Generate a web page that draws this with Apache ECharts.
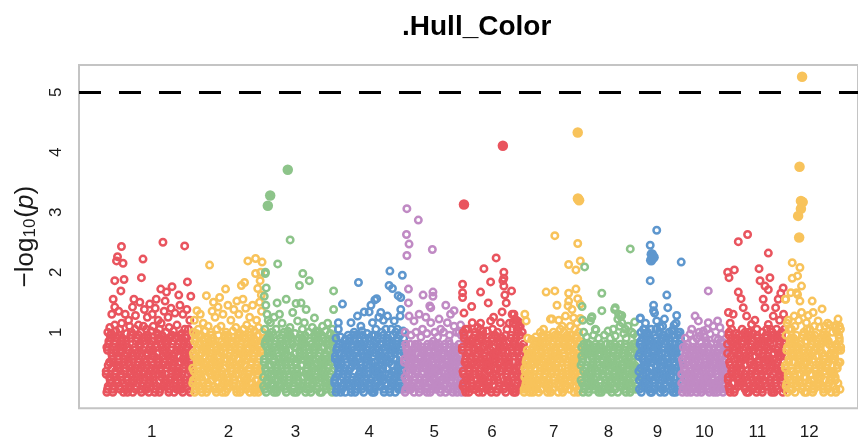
<!DOCTYPE html>
<html><head><meta charset="utf-8">
<script src="https://cdn.jsdelivr.net/npm/echarts@6/dist/echarts.min.js"></script>
<style>html,body{margin:0;padding:0;background:#fff}#c{width:858px;height:443px}</style>
</head><body><div id="c"></div>
<script>
const chartTitle = '.Hull_Color';
const chromosomes = ['1','2','3','4','5','6','7','8','9','10','11','12'];
const chrLengths = [43.8, 35.9, 36.0, 35.3, 29.3, 31.3, 28.8, 29.3, 21.7, 23.2, 29.3, 28.3];
const chrLabelPos = [23.2, 62.1, 96.0, 133.3, 166.2, 195.5, 226.8, 254.5, 279.3, 303.0, 329.8, 356.1];
const chrColors = ['#E9545E','#F8C35B','#8DC48A','#5E97CE','#C08AC4'];
const thresholdLine = 5;
const yTickValues = [1, 2, 3, 4, 5];

// dense background SNPs, two tracks per chromosome, each spread along the chromosome.
// digit d = d/10 ; letter a..j = 0.05 .. 0.95  (-log10 p)
const bulk1 = ["3071852946 0518372964 1739280564 8205713946 0627419358 2840617395 5193072846 7260481593 0948367152 3816059274 6402917385 1759304826 9183640527",
               "dhaeicjbgf ahcidgebfj eagcibhdfa ichfaedjbg bfdhaicgej hcagebidfa gaejcbhfdi cibdahgfje fadcjhebig hbiegacfdj eifgbdahca djcahfgibe gbhaeidfcj"];
const bulk2 = ["4260917538 1835027496 7049186325 2918540736 6571308249 0382961574 8516273049 3704859162 9127634085 5869012473 06847129",
               "bgdiacfhej fajcgbdieh cehbafgdji gidfcahebj aecgidbhfj hbfajcegid dicbhegafj jfhdaibgce egacfhdbji cbhfgiadej afdhbgic"];
const bulk3 = ["1584029376 6937150824 0426389157 8315704692 2769481035 5043297618 9178603425 3650812749 7281964053 0493526187 4817350962",
               "cfaidhbgej iebgcjfahd agdhfbciej fchagedibj bjeidfachg hdcfbagjei ebigjhdafc gaicedfbhj dhfajbigce jcedhgafbi febcaidhgj"];
const bulk4 = ["2607153840 5183640728 3719408265 9052716384 1846039527 6391825074 0527493618 8164207359 4935061782 2708394156 371859",
               "bfcahedgfa eachbgdfhb gdibfaechj iegajcfbhd cajhdibfge hfbgeacjdi ajgdibhecf dcefjahgbi fhiacgbedj bgdhfieacj ehcadg"];
const bulk5 = ["5082716348 1637402855 4810267535 7254108364 0386521748 6143870252 2718045367 8462305157 3507184620",
               "fcahdgbega aegfbfchdg dhbfceahgb gebcahfdec chfaeigdba bdgfhcafeg eghdbfecai ecbggadhfe hafdcebgeb"];
const bulk6 = ["7139506284 0482619357 3615807942 9026348175 1857093624 6304271859 4978160532 2541937806 8093725461 5178",
               "hdbjafceig gcfiebahdj aieghdbcfj cjhbfgeaid ebadcihfgj jfgcaebidh dgiafhjcbe fbehjcgadi iadgbefhjc bhce"];
const bulk7 = ["0415273610 3627051487 5160384725 8243716059 1903582674 6758041923 4086219357 9372865140 2519704836",
               "acdbfaegcb dgaehcbfia fbhciedagj ijcfgbhdea bhefdaicgj gedjbifhca cbfgaihdje hiabjecfgd efjhdgbaic"];
const bulk8 = ["2650817438 7083264157 4817530628 0374612857 5128406733 8265047182 1436780524 6701358248 37164",
               "ehbfdagceb cagdhebfga bhdfcehagh hfacgedbea gdhafbfceh acebhgfdcb dgecafhbed fbbegadche hadcg"];
const bulk9 = ["6284019375 1937562840 4052871963 8716305249 3508194627 9243760518 0761485392",
               "dagichfbej hbejdgaifc cigafbjdhe fdhcbeigaj ajbgidcfhe eichfajbgd bgfdjahcie"];
const bulk10 = ["3051462703 1624035716 5370214463 0416752381 2705364150 6153047256 4260517372",
                "bfaedcghab eacgbdfahc dbfhaegcba ghadcbefea cahefbdgab fdbgachehe agcedbfahd"];
const bulk11 = ["8215069347 0739481256 5482713960 2906358471 7163095824 4380627519 1657289043 9024175638 36920581",
                "gcjaeidbhf iahdcfjgeb dfbigeahcj bjgfhcdaie ehcbjagfid cagiedbjfh hidfbcaejg fbejahgicd jgdcia"];
const bulk12 = ["4170358296 8593027164 2638914705 6051749328 0927463815 3784150692 9415826037 1362084759 57",
                "ejbhcfaigd adgicbjhef hbfeajdcgi cidgfbehja gfajdhibce bhcegjafdi jeaibdgchf dgfcahebji ah"];

// individual SNPs above the dense band: [position in chromosome (Mb), -log10(p), filled?]
const peaks1 = [[7.9,2.43],[5.9,2.26],[5.4,2.19],[8.7,2.15],[28.9,2.50],[39.9,2.44],[18.8,2.22],[4.5,1.86],[9.2,1.88],[18.0,1.91],[7.6,1.69],[27.8,1.72],[30.7,1.67],[33.5,1.76],[41.3,1.84],[43.0,1.60],[36.9,1.62],[3.7,1.55],[4.5,1.42],[17.2,1.50],[22.2,1.47],[2.0,1.08],[4.5,1.12],[3.0,1.3],[6.5,1.35],[9.8,1.3],[11.5,1.2],[13.5,1.42],[15.0,1.28],[19.5,1.38],[21.0,1.25],[23.5,1.3],[25.0,1.4],[26.5,1.2],[29.5,1.35],[31.5,1.25],[33.0,1.4],[35.0,1.32],[37.5,1.45],[39.0,1.3],[41.0,1.38],[42.5,1.2],[8.0,1.15],[12.0,1.1],[16.5,1.12],[20.5,1.05],[24.0,1.1],[28.0,1.15],[32.0,1.08],[36.0,1.12],[40.0,1.05],[14.2,1.55],[30.0,1.52],[25.5,1.55],
  [1.0,1.0],[2.8,0.98],[5.0,1.02],[7.0,1.05],[10.5,0.98],[13.0,1.0],[14.8,1.05],[17.8,1.0],[19.0,1.1],[22.8,1.02],[26.0,0.98],[27.2,1.05],[30.5,1.0],[34.2,1.02],[38.5,0.98],[41.8,1.05],[43.3,0.95]];
const peaks2 = [[8.7,2.12],[28.1,2.19],[32.0,2.23],[35.3,2.17],[32.0,1.98],[26.4,1.83],[24.8,1.78],[33.1,1.73],[34.3,1.86],[16.8,1.72],[13.8,1.58],[7.1,1.61],[22.5,1.52],[25.6,1.55],[2.3,1.36],[1.0,1.2],[4.0,1.3],[5.5,1.15],[10.0,1.35],[11.5,1.25],[13.0,1.42],[15.5,1.3],[18.0,1.45],[19.5,1.2],[21.0,1.38],[23.5,1.3],[27.0,1.4],[29.0,1.25],[30.5,1.45],[32.5,1.2],[34.0,1.5],[35.0,1.35],[3.0,1.05],[8.0,1.1],[14.5,1.1],[22.0,1.08],[27.5,1.12],[29.5,1.05],[10.7,1.5],[34.6,2.0],[34.9,1.62],
  [0.5,1.0],[2.0,0.98],[6.5,1.02],[9.3,1.0],[12.5,1.05],[17.0,1.0],[20.5,1.02],[24.2,0.98],[26.0,1.05],[28.5,1.0],[31.5,1.02],[33.5,1.08],[35.5,1.0]];
const peaks3 = [[12.4,3.71,1],[3.5,3.28,1],[2.3,3.11,1],[13.6,2.54],[7.3,2.14],[20.0,1.98],[23.3,1.86],[18.3,1.78],[1.0,1.98],[1.5,1.74],[35.6,1.69],[35.6,1.38],[11.6,1.55],[7.0,1.49],[1.1,2.0],[32.6,1.15],[0.5,1.6],[1.3,1.45],[1.9,1.3],[2.5,1.2],[8.2,1.3],[16.6,1.48],[19.1,1.49],[21.7,1.38],[25.9,1.24],[26.7,1.02],[12.4,1.02],[14.9,1.33],[17.4,1.19],[20.8,1.16],[3.6,1.16],[30.0,1.1],[33.9,0.98],[9.5,1.15],[5.5,1.25],
  [0.8,1.05],[4.5,1.0],[6.5,1.05],[10.5,1.0],[13.5,1.08],[16.0,0.98],[19.8,1.05],[23.0,1.0],[24.8,1.08],[28.0,1.0],[31.5,1.02],[35.0,1.05]];
const peaks4 = [[4.1,1.47],[2.0,1.16],[2.0,1.05],[12.2,1.83],[28.1,2.02],[34.4,1.95],[27.7,1.78],[29.4,1.73],[32.3,1.61],[33.6,1.58],[21.4,1.56],[15.1,1.34],[17.6,1.34],[20.5,1.54],[23.5,1.33],[26.9,1.27],[30.3,1.19],[33.3,1.27],[11.7,1.27],[8.4,1.16],[13.4,1.1],[19.3,1.16],[26.1,1.05],[31.9,1.05],[33.6,1.38],[24.8,1.2],[18.5,1.45],[22.5,1.25],
  [0.8,0.9],[3.2,0.92],[5.5,0.88],[7.0,0.95],[10.0,1.0],[14.0,1.02],[16.5,0.98],[21.0,1.05],[24.0,1.0],[28.8,1.05],[31.0,1.0],[34.8,1.02]];
const peaks5 = [[1.4,3.06],[7.2,2.87],[1.2,2.63],[2.5,2.47],[1.4,2.28],[14.3,2.38],[2.2,1.72],[9.6,1.62],[14.6,1.67],[14.6,1.6],[21.1,1.45],[25.3,1.36],[13.5,1.41],[28.6,1.12],[2.2,1.49],[7.6,1.3],[5.0,1.19],[13.0,1.44],[13.5,1.16],[17.7,1.22],[21.9,1.16],[18.5,1.05],[25.3,1.1],[27.8,1.0],[9.3,1.05],[2.5,1.27],[11.0,1.25],[23.5,1.3],
  [0.5,1.0],[3.5,0.95],[6.0,1.0],[8.5,0.92],[11.5,0.98],[15.5,1.0],[17.0,0.92],[20.0,1.0],[23.0,0.95],[26.5,1.0],[29.0,0.95]];
const peaks6 = [[20.7,4.11,1],[1.0,3.13,1],[17.3,2.24],[11.1,2.06],[21.2,2.0],[20.7,1.86],[14.5,1.84],[0.3,1.8],[0.3,1.66],[0.3,1.58],[9.4,1.67],[13.3,1.49],[25.1,1.69],[4.9,1.43],[1.0,1.32],[21.7,1.62],[26.3,1.3],[27.9,1.05],[9.4,1.15],[21.2,1.9],[21.2,1.77],[22.4,1.49],[20.3,1.34],[19.5,1.16],[25.4,1.3],[27.1,1.13],[28.8,1.08],[27.5,1.2],[28.2,1.0],[1.9,1.05],[5.2,1.16],[12.8,1.02],[14.5,1.19],[9.4,1.05],[16.0,1.25],[24.0,1.15],
  [0.8,1.0],[3.0,1.05],[6.5,1.0],[8.0,1.08],[10.5,1.02],[15.5,1.05],[18.0,1.0],[22.8,1.05],[25.8,1.15],[26.8,1.22],[28.5,1.18],[29.5,1.1],[30.5,1.0]];
const peaks7 = [[27.3,4.33,1],[27.4,3.23,1],[28.0,3.2,1],[15.7,2.61],[27.3,2.48],[22.7,2.13],[26.4,2.04],[28.6,2.19],[11.3,1.67],[15.7,1.69],[22.7,1.65],[26.4,1.72],[27.3,1.56],[22.4,1.44],[16.8,1.45],[0.5,1.3],[1.2,1.19],[14.3,1.22],[28.6,1.23],[13.5,1.22],[17.7,1.2],[22.7,1.52],[24.4,1.38],[25.2,1.24],[21.1,1.27],[8.4,1.0],[11.0,0.83],[17.7,0.94],[28.6,1.47],[26.9,1.16],[19.5,1.1],[10.0,1.05],
  [2.0,0.9],[4.0,0.88],[6.0,0.92],[12.0,0.95],[15.0,1.0],[18.5,1.05],[20.3,1.0],[23.5,1.1],[25.8,1.05],[27.8,1.0]];
const peaks8 = [[2.0,2.09],[25.1,2.39],[10.7,1.65],[10.7,1.36],[0.7,1.43],[5.4,1.24],[17.2,1.38],[18.8,1.22],[20.8,1.28],[27.3,1.17],[7.7,1.04],[19.2,1.3],[20.8,1.16],[4.9,1.19],[13.8,1.02],[17.5,0.94],[22.6,1.05],[26.8,0.97],[5.7,1.26],[7.4,1.05],[17.5,1.41],[20.0,1.27],[1.0,1.2],[24.0,1.1],
  [1.5,1.0],[3.0,0.92],[6.5,0.95],[9.0,0.9],[12.0,0.95],[15.0,0.9],[16.5,1.05],[19.8,1.1],[21.8,0.98],[23.0,0.9],[25.8,1.0],[28.5,0.92]];
const peaks9 = [[9.2,2.70],[5.9,2.45],[6.7,2.3,1],[6.4,2.2,1],[7.6,2.25,1],[21.6,2.17],[5.9,1.86],[14.3,1.62],[7.6,1.45],[7.6,1.36],[8.1,1.32],[14.8,1.41],[19.3,1.28],[0.8,1.23],[9.2,1.19],[13.1,1.22],[6.4,1.05],[0.9,1.24],[2.5,1.05],[11.0,1.08],[16.8,1.02],[20.2,1.0],[3.5,1.15],[18.0,1.12],
  [1.2,1.0],[3.0,1.05],[4.5,1.0],[8.8,1.05],[10.5,1.0],[12.2,1.1],[15.5,1.0],[17.5,1.05],[19.0,1.15],[21.0,1.0]];
const peaks10 = [[13.6,1.69],[6.9,1.27],[8.6,1.19],[18.3,1.19],[13.6,1.16],[19.5,1.08],[4.4,0.97],[11.1,1.02],[16.1,1.1],[14.5,0.97],[9.4,0.94],[20.3,0.97],[5.2,1.05],[18.7,0.88],[21.2,0.83],[2.0,0.9],[11.8,0.92],
  [1.0,0.75],[3.0,0.8],[6.0,0.85],[7.8,0.9],[10.0,0.82],[12.5,0.86],[15.0,0.8],[17.2,0.9],[20.0,0.82],[22.5,0.78],[13.0,1.05],[9.0,1.0]];
const peaks11 = [[10.3,2.63],[5.6,2.51],[20.8,2.32],[3.6,2.04],[0.2,2.0],[0.9,1.91],[16.1,2.06],[21.6,1.91],[16.6,1.86],[19.1,1.77],[20.8,1.71],[28.3,1.74],[5.6,1.67],[7.0,1.56],[8.1,1.41],[9.8,1.27],[12.3,1.13],[18.2,1.55],[19.1,1.41],[25.8,1.55],[23.3,1.27],[0.6,1.33],[24.5,1.41],[27.1,1.65],[20.8,1.13],[1.5,1.15],[3.0,1.3],[14.0,1.2],[26.5,1.2],[11.0,1.0],[22.0,1.05],[28.5,1.3],
  [1.0,1.0],[2.2,1.05],[4.5,0.98],[7.5,1.05],[9.0,1.0],[13.0,0.98],[15.0,1.05],[17.8,1.0],[20.0,1.05],[22.8,1.0],[25.0,1.05],[27.5,1.0],[29.0,1.05]];
const peaks12 = [[8.6,5.26,1],[7.3,3.76,1],[8.0,3.19,1],[8.9,3.17,1],[8.0,3.06,1],[6.6,2.94,1],[7.1,2.58,1],[3.6,2.16],[7.5,2.08],[6.3,1.94],[3.6,1.9],[2.9,1.66],[6.3,1.63],[7.5,1.52],[13.7,1.52],[18.7,1.39],[11.7,1.28],[26.8,1.22],[25.2,1.08],[8.3,1.77],[5.8,1.66],[14.2,1.33],[16.7,1.19],[20.1,1.1],[10.8,1.16],[8.3,1.33],[4.6,1.27],[26.0,1.02],[0.3,1.55],[1.6,1.2],[0.1,1.55],[2.0,1.05],[5.0,1.1],[12.5,1.05],[17.5,1.08],[22.5,1.12],[24.0,1.0],[27.5,1.1],[9.5,1.0],
  [1.0,1.15],[3.2,1.05],[6.8,1.2],[11.0,1.05],[14.8,1.1],[19.5,1.0],[21.5,1.15],[25.8,1.12],[28.0,1.05]];

const bulks = [bulk1,bulk2,bulk3,bulk4,bulk5,bulk6,bulk7,bulk8,bulk9,bulk10,bulk11,bulk12];
const peaks = [peaks1,peaks2,peaks3,peaks4,peaks5,peaks6,peaks7,peaks8,peaks9,peaks10,peaks11,peaks12];

const FONT = '"Liberation Sans", Arial, Helvetica, sans-serif';
const offsets = [];
let acc = 0;
chrLengths.forEach(l => { offsets.push(acc); acc += l; });

function decode(ch) {
  if (ch >= '0' && ch <= '9') return Number(ch) / 10;
  return (ch.charCodeAt(0) - 97) / 10 + 0.05;
}

const series = chromosomes.map((name, c) => {
  const col = chrColors[c % chrColors.length];
  const data = [];
  bulks[c].forEach(track => {
    const t = track.replace(/\s+/g, '');
    for (let i = 0; i < t.length; i++) {
      data.push([offsets[c] + (i + 0.5) / t.length * chrLengths[c], decode(t[i])]);
    }
  });
  peaks[c].forEach(p => {
    const item = { value: [offsets[c] + p[0], p[1]] };
    if (p[2]) { item.symbolSize = 10.5; item.itemStyle = { color: col, borderWidth: 0 }; }
    data.push(item);
  });
  const s = {
    type: 'scatter', name: 'chr' + name, data: data,
    symbol: 'circle', symbolSize: 6.5,
    itemStyle: { color: 'rgba(0,0,0,0)', borderColor: col, borderWidth: 2.5, opacity: 1 },
    emphasis: { disabled: true }, silent: true, large: false
  };
  if (c === 0) {
    s.markLine = {
      silent: true, symbol: 'none', animation: false,
      label: { show: false },
      lineStyle: { color: '#000', type: [22, 18], width: 3 },
      data: [{ yAxis: thresholdLine }]
    };
  }
  return s;
});

const chart = echarts.init(document.getElementById('c'), null, { renderer: 'canvas' });
chart.setOption({
  animation: false,
  backgroundColor: '#fff',
  title: {
    text: chartTitle, left: 397, top: 8,
    textStyle: { fontFamily: FONT, fontSize: 28, fontWeight: 'bold', color: '#000' }
  },
  grid: {
    left: 79, right: -2, top: 65, bottom: 34.7,
    show: true, borderColor: '#c4c4c4', borderWidth: 2, backgroundColor: 'rgba(0,0,0,0)'
  },
  xAxis: {
    type: 'value', min: -13.6, max: 380.8,
    axisLine: { show: false }, axisTick: { show: false }, splitLine: { show: false },
    axisLabel: {
      customValues: chrLabelPos, margin: 16,
      fontFamily: FONT, fontSize: 17, color: '#1a1a1a',
      formatter: v => {
        let best = 0;
        chrLabelPos.forEach((p, i) => { if (Math.abs(p - v) < Math.abs(chrLabelPos[best] - v)) best = i; });
        return chromosomes[best];
      }
    }
  },
  yAxis: {
    type: 'value', min: -0.267, max: 5.455,
    axisLine: { show: false }, axisTick: { show: false }, splitLine: { show: false },
    axisLabel: {
      customValues: yTickValues, rotate: 90, margin: 14,
      fontFamily: FONT, fontSize: 17, color: '#1a1a1a'
    },
    name: '{a|−log}{s|10}{a|(}{p|p}{a|)}',
    nameLocation: 'middle', nameRotate: 90, nameGap: 40,
    nameTextStyle: {
      rich: {
        a: { fontFamily: FONT, fontSize: 26, color: '#1a1a1a' },
        s: { fontFamily: FONT, fontSize: 17, color: '#1a1a1a', verticalAlign: 'bottom', padding: [9, 1, 0, 0] },
        p: { fontFamily: FONT, fontSize: 26, fontStyle: 'italic', color: '#1a1a1a' }
      }
    }
  },
  series: series
});
</script>
</body></html>
